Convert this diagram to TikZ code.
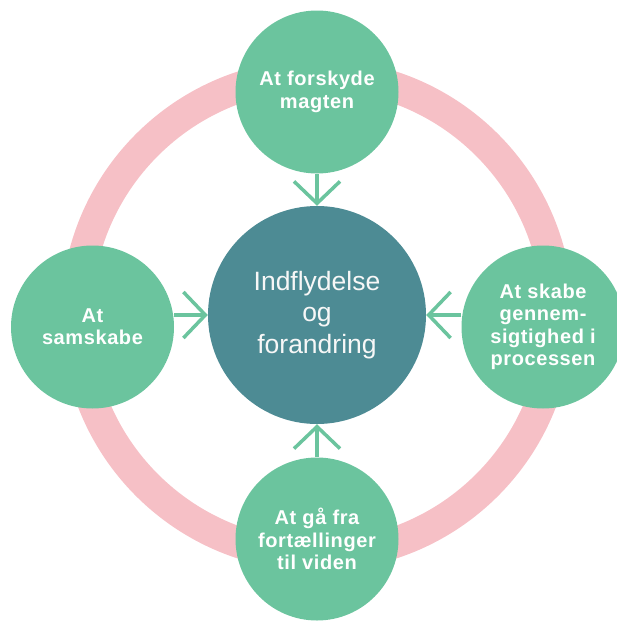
\documentclass[tikz,border=0pt]{standalone}
\usepackage{fontspec}
\setmainfont{Liberation Sans}
\usetikzlibrary{arrows.meta}
\definecolor{mint}{RGB}{107,196,158}
\definecolor{petrol}{RGB}{77,139,148}
\definecolor{rose}{RGB}{246,192,198}

\begin{document}
\begin{tikzpicture}[x=1pt, y=-1pt,
    emne/.style={circle, fill=mint, minimum size=163pt, inner sep=0pt,
      align=center, text=white,
      font=\fontsize{20}{22.4}\selectfont\bfseries\addfontfeature{LetterSpace=3}},
    pil/.style={draw=mint, line width=3.5pt,
      -{Straight Barb[length=22pt, width=46pt]}},
  ]
  \useasboundingbox (0,0) rectangle (617,621);

  % ring behind the circles
  \draw[rose, line width=31pt] (317,315) circle[radius=240.5pt];

  \node[circle, fill=petrol, minimum size=218pt, inner sep=0pt, align=center,
    text=white!94!gray, font=\fontsize{26.5}{31.5}\selectfont]
    (hub) at (317,315) {Indflydelse\\og\\forandring};

  \node[emne] (magt) at (317,92) {At forskyde\\magten};
  \node[emne] (samskab) at (92.5,327) {At\\samskabe};
  \node[emne] (gennem) at (543,327) {At skabe\\gennem-\\sigtighed i\\processen};
  \node[emne] (viden) at (317,539) {At gå fra\\fortællinger\\til viden};

  \draw[pil] (magt) -- (hub);
  \draw[pil] (viden) -- (hub);
  \draw[pil] (samskab.east |- hub.west) -- (hub.west);
  \draw[pil] (gennem.west |- hub.east) -- (hub.east);
\end{tikzpicture}
\end{document}
